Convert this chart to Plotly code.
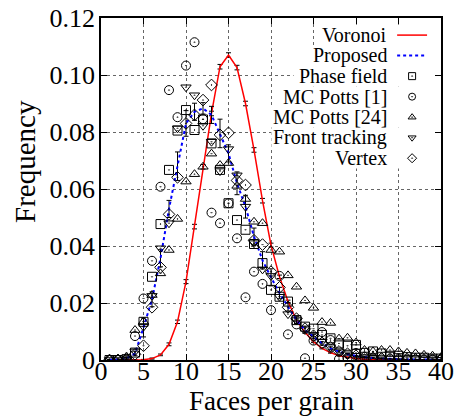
import plotly.graph_objects as go

# Number of faces per grain
faces = list(range(1, 41))

# Voronoi tessellation distribution and its error
voronoi = [0.0, 0.0, 0.0, 0.00002, 0.0001, 0.0005, 0.0018, 0.0055, 0.0134, 0.0275,
           0.0468, 0.0678, 0.0865, 0.1029, 0.1070, 0.1026, 0.0900, 0.0737, 0.0559, 0.0403,
           0.0292, 0.0205, 0.0140, 0.0097, 0.0064, 0.0041, 0.0026, 0.0015, 0.0009, 0.0005,
           0.0003, 0.0002, 0.0001, 0.0001, 0.0, 0.0, 0.0, 0.0, 0.0, 0.0]
voronoi_err = [0.0, 0.0, 0.0, 0.0, 0.0001, 0.0002, 0.0003, 0.0005, 0.0006, 0.0007,
               0.0008, 0.0008, 0.0008, 0.0008, 0.0008, 0.0008, 0.0008, 0.0008, 0.0008, 0.0007,
               0.0006, 0.0005, 0.0004, 0.0003, 0.0003, 0.0002, 0.0002, 0.0001, 0.0001, 0.0001,
               0.0, 0.0, 0.0, 0.0, 0.0, 0.0, 0.0, 0.0, 0.0, 0.0]

# Proposed model and its error
proposed = [0.0001, 0.0002, 0.0006, 0.0023, 0.0114, 0.0213, 0.0357, 0.0530, 0.0680, 0.0830,
            0.0871, 0.0883, 0.0860, 0.0795, 0.0725, 0.0620, 0.0538, 0.0433, 0.0350, 0.0290,
            0.0235, 0.0187, 0.0140, 0.0105, 0.0082, 0.0058, 0.0041, 0.0029, 0.0020, 0.0014,
            0.0010, 0.0007, 0.0005, 0.0004, 0.0003, 0.0002, 0.0002, 0.0001, 0.0001, 0.0001]
proposed_err = [0.0, 0.0001, 0.0003, 0.0008, 0.0033, 0.0026, 0.0030, 0.0030, 0.0050, 0.0045,
                0.0030, 0.0020, 0.0030, 0.0050, 0.0030, 0.0040, 0.0040, 0.0030, 0.0030, 0.0030,
                0.0020, 0.0015, 0.0012, 0.0010, 0.0008, 0.0006, 0.0005, 0.0004, 0.0003, 0.0002,
                0.0002, 0.0001, 0.0001, 0.0001, 0.0001, 0.0, 0.0, 0.0, 0.0, 0.0]

# Reference data sets
phase_field = [0.0, 0.0, 0.0003, 0.0026, 0.0134, 0.0292, 0.0477, 0.0667, 0.0805, 0.0877,
               0.0807, 0.0844, 0.0760, 0.0667, 0.0550, 0.0491, 0.0457, 0.0407, 0.0340, 0.0246,
               0.0222, 0.0205, 0.0140, 0.0117, 0.0110, 0.0088, 0.0076, 0.0058, 0.0050, 0.0053,
               0.0025, 0.0030, 0.0023, 0.0015, 0.0015, 0.0010, 0.0008, 0.0008, 0.0005, 0.0005]
mc_potts_1 = [0.0, 0.0, 0.0, 0.0084, 0.0216, 0.0348, 0.0608, 0.0947, 0.0852, 0.1033,
              0.1115, 0.0845, 0.0517, 0.0480, 0.0550, 0.0427, 0.0220, 0.0310, 0.0267, 0.0175,
              0.0295, 0.0090, 0.0125, 0.0006, 0.0068, 0.0098, 0.0070, 0.0003, 0.0006, 0.0025,
              0.0003, 0.0005, 0.0002, 0.0003, 0.0002, 0.0001, 0.0002, 0.0001, 0.0001, 0.0001]
mc_potts_24 = [0.0003, 0.0005, 0.0012, 0.0105, 0.0135, 0.0228, 0.0304, 0.0386, 0.0495, 0.0626,
               0.0652, 0.0678, 0.0724, 0.0684, 0.0691, 0.0611, 0.0565, 0.0485, 0.0480, 0.0386,
               0.0380, 0.0297, 0.0257, 0.0209, 0.0183, 0.0133, 0.0130, 0.0075, 0.0078, 0.0061,
               0.0035, 0.0030, 0.0035, 0.0035, 0.0030, 0.0025, 0.0023, 0.0018, 0.0015, 0.0010]
front_tracking = [0.0, 0.0, 0.0002, 0.0030, 0.0117, 0.0225, 0.0392, 0.0480, 0.0813, 0.0957,
                  0.0929, 0.0822, 0.0766, 0.0663, 0.0740, 0.0648, 0.0538, 0.0410, 0.0318, 0.0295,
                  0.0222, 0.0161, 0.0140, 0.0111, 0.0088, 0.0065, 0.0045, 0.0030, 0.0020, 0.0015,
                  0.0010, 0.0008, 0.0006, 0.0005, 0.0004, 0.0003, 0.0003, 0.0002, 0.0002, 0.0001]
vertex = [0.0, 0.0, 0.0002, 0.0020, 0.0050, 0.0185, 0.0325, 0.0511, 0.0641, 0.0830,
          0.0860, 0.0912, 0.0965, 0.0790, 0.0797, 0.0630, 0.0614, 0.0420, 0.0405, 0.0310,
          0.0255, 0.0185, 0.0145, 0.0110, 0.0085, 0.0060, 0.0045, 0.0030, 0.0022, 0.0015,
          0.0010, 0.0008, 0.0006, 0.0005, 0.0004, 0.0003, 0.0002, 0.0002, 0.0001, 0.0001]

x_ticks = [0, 5, 10, 15, 20, 25, 30, 35, 40]
y_ticks = [0, 0.02, 0.04, 0.06, 0.08, 0.10, 0.12]
y_tick_text = ["0", "0.02", "0.04", "0.06", "0.08", "0.10", "0.12"]

FONT = "Liberation Serif"
KEY_SIZE = 20

marker_series = [
    ("Phase field", phase_field, "square-open-dot"),
    ("MC Potts [1]", mc_potts_1, "circle-open-dot"),
    ("MC Potts [24]", mc_potts_24, "triangle-up-open-dot"),
    ("Front tracking", front_tracking, "triangle-down-open-dot"),
    ("Vertex", vertex, "diamond-open-dot"),
]

fig = go.Figure()

fig.add_trace(go.Scatter(
    x=faces, y=voronoi, mode="lines", name="Voronoi",
    line=dict(color="#ff0000", width=1.5),
    error_y=dict(type="data", array=voronoi_err, color="#000000", thickness=1, width=2.5),
))
fig.add_trace(go.Scatter(
    x=faces, y=proposed, mode="lines", name="Proposed",
    line=dict(color="#0000ff", width=2, dash="dot"),
    error_y=dict(type="data", array=proposed_err, color="#000000", thickness=1, width=2.5),
))
for name, vals, sym in marker_series:
    fig.add_trace(go.Scatter(
        x=faces, y=vals, mode="markers", name=name,
        marker=dict(symbol=sym, size=9, color="#000000", line=dict(width=1, color="#000000")),
    ))

# Key: text right-aligned, sample on the right (drawn on an overlay 0..1 frame)
key_text_x = 0.844
key_sample_x = 0.915
key_line_x = [0.871, 0.959]
key_top = 0.950
key_step = 0.060

key_entries = [("Voronoi", "line", dict(color="#ff0000", width=1.5)),
               ("Proposed", "line", dict(color="#0000ff", width=2, dash="dot"))]
key_entries += [(name, "marker", sym) for name, _, sym in marker_series]


def text_width_frac(label):
    # rough advance widths (em) for a Times-like serif, as a fraction of the plot width
    wide = {"M": 0.89, "P": 0.56, "F": 0.56, "V": 0.72, "C": 0.67, "[": 0.33, "]": 0.33,
            " ": 0.25, "i": 0.28, "l": 0.28, "t": 0.28, "f": 0.33, "r": 0.33, "k": 0.5}
    em = sum(wide.get(ch, 0.47) for ch in label)
    return (em * KEY_SIZE + 4) / 340.0


annotations = []
for i, (label, kind, style) in enumerate(key_entries):
    ky = key_top - i * key_step
    x_left = key_text_x - text_width_frac(label)
    # white backing for this key row (hides the grid behind text and sample)
    fig.add_trace(go.Scatter(
        x=[x_left, 1.0, 1.0, x_left, x_left],
        y=[ky - key_step / 2, ky - key_step / 2, ky + key_step / 2, ky + key_step / 2, ky - key_step / 2],
        mode="lines", fill="toself", fillcolor="#ffffff", line=dict(width=0, color="#ffffff"),
        xaxis="x2", yaxis="y2", showlegend=False, hoverinfo="skip",
    ))
    annotations.append(dict(
        x=key_text_x, y=ky, xref="x2", yref="y2", text=label, showarrow=False,
        xanchor="right", yanchor="middle", borderpad=0,
        font=dict(family=FONT, size=KEY_SIZE, color="#000000"),
    ))
    if kind == "line":
        fig.add_trace(go.Scatter(
            x=key_line_x, y=[ky, ky], mode="lines", line=style,
            xaxis="x2", yaxis="y2", showlegend=False, hoverinfo="skip",
        ))
    else:
        fig.add_trace(go.Scatter(
            x=[key_sample_x], y=[ky], mode="markers",
            marker=dict(symbol=style, size=7, color="#000000", line=dict(width=1, color="#000000")),
            xaxis="x2", yaxis="y2", showlegend=False, hoverinfo="skip",
        ))

# Axis titles
annotations.append(dict(
    x=0.5, y=-0.119, xref="paper", yref="paper", text="Faces per grain",
    showarrow=False, xanchor="center", yanchor="middle",
    font=dict(family=FONT, size=27, color="#000000"),
))
annotations.append(dict(
    x=-0.2235, y=0.579, xref="paper", yref="paper", text="Frequency",
    showarrow=False, xanchor="center", yanchor="middle", textangle=-90,
    font=dict(family=FONT, size=29, color="#000000"),
))

axis_common = dict(
    showline=True, linecolor="#000000", linewidth=1.5, mirror="ticks",
    ticks="inside", ticklen=6, tickwidth=1, tickcolor="#000000",
    showgrid=True, gridcolor="#666666", griddash="dot", gridwidth=1,
    zeroline=False, automargin=False,
    tickfont=dict(family=FONT, size=26, color="#000000"),
)

fig.update_layout(
    width=456, height=416,
    margin=dict(l=101, r=15, t=18, b=56, autoexpand=False),
    paper_bgcolor="#ffffff", plot_bgcolor="#ffffff",
    showlegend=False,
    xaxis=dict(range=[0, 40], tickvals=x_ticks, ticklabelstandoff=-13, **axis_common),
    yaxis=dict(range=[0, 0.12], tickvals=y_ticks, ticktext=y_tick_text,
               ticklabelstandoff=-1, **axis_common),
    xaxis2=dict(overlaying="x", range=[0, 1], visible=False, automargin=False),
    yaxis2=dict(overlaying="y", range=[0, 1], visible=False, automargin=False),
    annotations=annotations,
)

fig.write_html("out.html")
